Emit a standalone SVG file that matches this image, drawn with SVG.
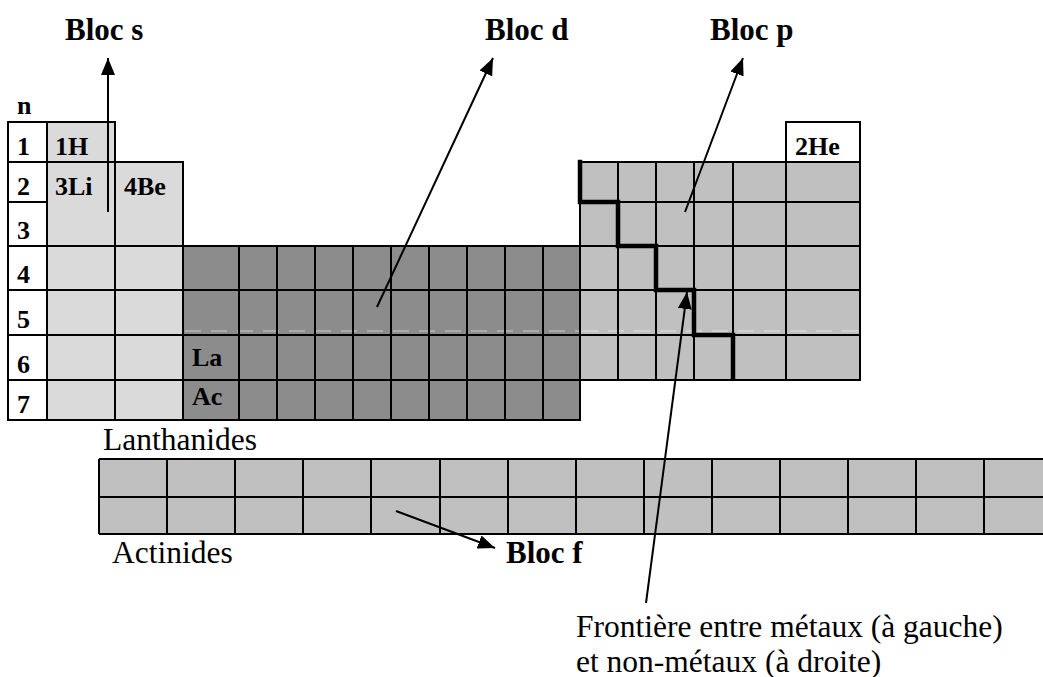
<svg xmlns="http://www.w3.org/2000/svg" width="1043" height="677" viewBox="0 0 1043 677">
<style>
.grid{fill:none;stroke:#000;stroke-width:2}
.lbl{font-family:"Liberation Serif","Times New Roman",serif;font-weight:bold;font-size:26px;fill:#000}
.big{font-family:"Liberation Serif","Times New Roman",serif;font-weight:bold;font-size:31px;fill:#000}
.txt{font-family:"Liberation Serif","Times New Roman",serif;font-size:31.5px;fill:#000}
.conn{stroke:#000;stroke-width:2;fill:none}
.stair{fill:none;stroke:#000;stroke-width:4.5;stroke-linejoin:miter;stroke-linecap:square}
.faint{stroke:#fff;stroke-width:1;stroke-dasharray:16 10;opacity:0.55;fill:none}
</style>
<defs>
<marker id="ah" markerUnits="userSpaceOnUse" markerWidth="18" markerHeight="14" refX="17" refY="7" orient="auto">
<path d="M0,0 L17,7 L0,14 Z" fill="#000"/>
</marker>
</defs>
<rect width="1043" height="677" fill="#fff"/>

<g id="row-labels">
<rect x="8" y="122" width="39" height="298" fill="#fff"/>
<text class="lbl" x="17" y="114">n</text>
<text class="lbl" x="17" y="155">1</text>
<text class="lbl" x="17" y="195">2</text>
<text class="lbl" x="17" y="239">3</text>
<text class="lbl" x="17" y="283">4</text>
<text class="lbl" x="17" y="328">5</text>
<text class="lbl" x="17" y="373">6</text>
<text class="lbl" x="17" y="413">7</text>
</g>

<g id="bloc-s">
<rect x="47" y="122" width="68" height="40" fill="#dadada"/>
<rect x="47" y="162" width="136" height="258" fill="#dadada"/>
<path class="grid" d="M8,122 H115 V162 H183 V420 H8 Z M8,162 H183 M8,202 H47 M8,246 H183 M8,290 H183 M8,335 H183 M8,380 H183 M47,122 V420 M115,122 V420"/>
<text class="lbl" x="55" y="155">1H</text>
<text class="lbl" x="55" y="195">3Li</text>
<text class="lbl" x="124" y="195">4Be</text>
</g>

<g id="bloc-d">
<rect x="183" y="246" width="397" height="174" fill="#8c8c8c"/>
<path class="faint" d="M185,331 H860"/>
<path class="grid" d="M183,246 H580 V420 H183 Z M183,290 H580 M183,335 H580 M183,380 H580 M239,246 V420 M277,246 V420 M315,246 V420 M353,246 V420 M391,246 V420 M429,246 V420 M467,246 V420 M505,246 V420 M543,246 V420"/>
<text class="lbl" x="192" y="366">La</text>
<text class="lbl" x="192" y="405">Ac</text>
</g>

<g id="bloc-p">
<rect x="580" y="162" width="280" height="218" fill="#c0c0c0"/>
<path class="faint" d="M582,331 H858"/>
<rect x="786" y="122" width="74" height="40" fill="#fff"/>
<path class="grid" d="M580,162 H860 V380 H580 Z M786,162 V122 H860 V162 M580,202 H860 M580,246 H860 M580,290 H860 M580,335 H860 M618,162 V380 M656,162 V380 M694,162 V380 M733,162 V380 M786,162 V380"/>
<text class="lbl" x="795" y="155">2He</text>
</g>

<g id="frontiere">
<path class="stair" d="M580,162 V202 H618 V246 H656 V290 H694 V335 H733 V378"/>
</g>

<g id="bloc-f">
<rect x="99" y="459" width="953" height="75" fill="#c0c0c0"/>
<path class="grid" d="M99,459 H1052 M99,497 H1052 M99,534 H1052 M99,459 V534 M167,459 V534 M235,459 V534 M303,459 V534 M371,459 V534 M440,459 V534 M508,459 V534 M576,459 V534 M644,459 V534 M712,459 V534 M780,459 V534 M848,459 V534 M916,459 V534 M984,459 V534"/>
<text class="txt" x="103" y="450">Lanthanides</text>
<text class="txt" x="112" y="563">Actinides</text>
</g>

<g id="labels">
<text class="big" x="65" y="40">Bloc s</text>
<text class="big" x="485" y="40">Bloc d</text>
<text class="big" x="710" y="40">Bloc p</text>
<text class="big" x="506" y="563">Bloc f</text>
<text class="txt" x="576" y="637">Frontière entre métaux (à gauche)</text>
<text class="txt" x="576" y="672">et non-métaux (à droite)</text>
</g>

<g id="connectors">
<line class="conn" x1="108" y1="212" x2="108" y2="58" marker-end="url(#ah)"/>
<line class="conn" x1="377" y1="307" x2="493" y2="58" marker-end="url(#ah)"/>
<line class="conn" x1="685" y1="212" x2="743" y2="58" marker-end="url(#ah)"/>
<line class="conn" x1="396" y1="511" x2="495" y2="548" marker-end="url(#ah)"/>
<line class="conn" x1="646" y1="603" x2="687" y2="292" marker-end="url(#ah)"/>
</g>
</svg>
